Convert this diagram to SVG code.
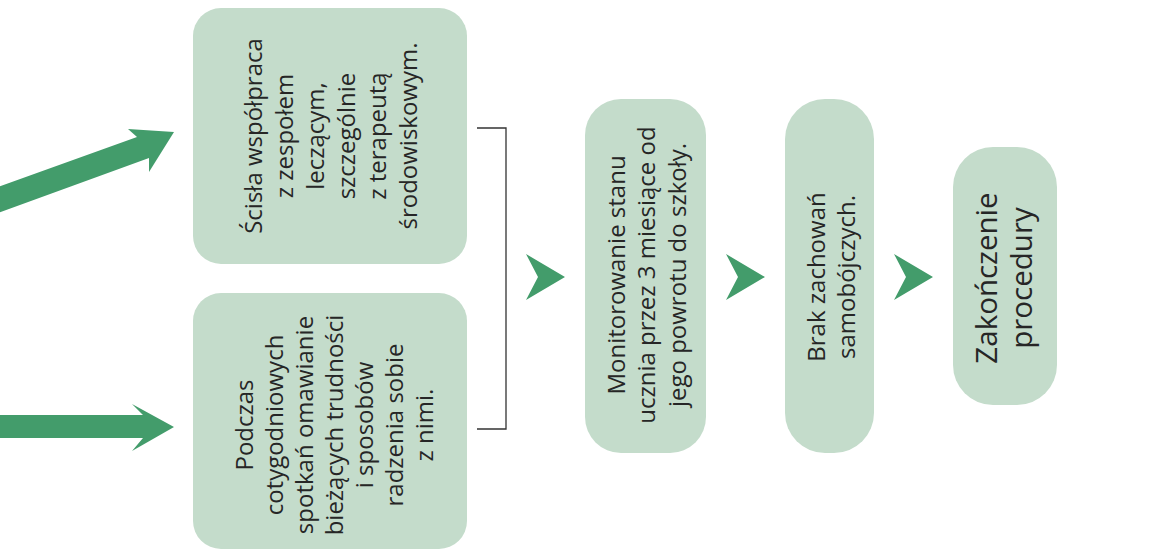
<svg xmlns="http://www.w3.org/2000/svg" width="1173" height="552" viewBox="0 0 1173 552">
<style>
.box{fill:#c4dccb}
.t{font-family:"Open Sans","Noto Sans","DejaVu Sans",sans-serif;font-size:24px;font-weight:400;fill:#262626;text-anchor:middle}
.tb{font-size:29.5px}
.arr{fill:#439c6b}
</style>
<rect width="1173" height="552" fill="#ffffff"/>
<g id="connectors">
<polygon class="arr" points="-5,188 137,137 128,129 174,132 149,172 149,158 -5,214"/>
<polygon class="arr" points="-5,415 143,415 132,404 174,427 132,451 143,438 -5,438"/>
<path d="M477,128 H506 V429 H477" fill="none" stroke="#333333" stroke-width="1.3"/>
<polygon class="arr" points="526,254 565,277 526,300 538,277"/>
<polygon class="arr" points="726,254 765,277 726,300 738,277"/>
<polygon class="arr" points="894,254 933,277 894,300 906,277"/>
</g>
<g id="node1">
<rect class="box" x="193" y="8" width="274" height="256" rx="28"/>
<g transform="translate(330,136) rotate(-90)">
<text class="t"><tspan x="0" y="-68">Ścisła współpraca</tspan><tspan x="0" y="-37">z zespołem</tspan><tspan x="0" y="-6">leczącym,</tspan><tspan x="0" y="25">szczególnie</tspan><tspan x="0" y="56">z terapeutą</tspan><tspan x="0" y="87">środowiskowym.</tspan></text>
</g>
</g>
<g id="node2">
<rect class="box" x="193" y="293" width="274" height="256" rx="28"/>
<g transform="translate(330,425) rotate(-90)">
<text class="t"><tspan x="0" y="-77">Podczas</tspan><tspan x="0" y="-47">cotygodniowych</tspan><tspan x="0" y="-17">spotkań omawianie</tspan><tspan x="0" y="13">bieżących trudności</tspan><tspan x="0" y="43">i sposobów</tspan><tspan x="0" y="73">radzenia sobie</tspan><tspan x="0" y="103">z nimi.</tspan></text>
</g>
</g>
<g id="node3">
<rect class="box" x="585" y="99" width="121" height="354" rx="36"/>
<g transform="translate(645.5,275) rotate(-90)">
<text class="t"><tspan x="0" y="-21">Monitorowanie stanu</tspan><tspan x="0" y="9.5">ucznia przez 3 miesiące od</tspan><tspan x="0" y="40">jego powrotu do szkoły.</tspan></text>
</g>
</g>
<g id="node4">
<rect class="box" x="785" y="99" width="89" height="354" rx="40"/>
<g transform="translate(829.5,277) rotate(-90)">
<text class="t"><tspan x="0" y="-5">Brak zachowań</tspan><tspan x="0" y="25.5">samobójczych.</tspan></text>
</g>
</g>
<g id="node5">
<rect class="box" x="953" y="147" width="104" height="258" rx="40"/>
<g transform="translate(1005,278) rotate(-90)">
<text class="t tb"><tspan x="0" y="-8">Zakończenie</tspan><tspan x="0" y="27">procedury</tspan></text>
</g>
</g>
</svg>
